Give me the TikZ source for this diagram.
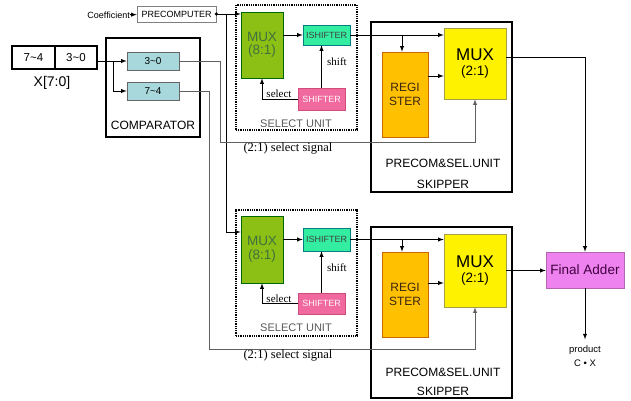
\documentclass[tikz,border=0pt]{standalone}
\usepackage{fontspec}
\setmainfont{Liberation Sans}
\newfontfamily\sigfont{Liberation Serif}
\newcommand\fsz[1]{\fontsize{#1}{#1}\selectfont}
\definecolor{cmpfill}{HTML}{A8D8DC}
\definecolor{muxgreen}{HTML}{8CC014}
\definecolor{mint}{HTML}{33EEA0}
\definecolor{shpink}{HTML}{F06AA0}
\definecolor{regorange}{HTML}{FFC000}
\definecolor{faviolet}{HTML}{EE82EE}
\begin{document}
\begin{tikzpicture}[>=latex,x=1pt,y=-1pt,
  outer/.style={draw,line width=1.7pt,inner sep=0pt},
  selbox/.style={draw,line width=2pt,dash pattern=on 1pt off 0.8pt,inner sep=0pt},
  blk/.style={draw,line width=0.6pt,inner sep=0pt,align=center},
  cmpbox/.style={blk,draw=gray!80!black,fill=cmpfill,minimum width=52pt,minimum height=18pt,font=\fsz{10}},
  mux8/.style={blk,draw=green!40!black,fill=muxgreen,text=green!25!black!75,minimum width=42pt,font=\fsz{13.5}},
  ishbox/.style={blk,draw=teal,fill=mint,text=black!75,minimum width=47pt,font=\fsz{9}},
  shbox/.style={blk,draw=purple!70,fill=shpink,text=white!85!pink,minimum width=47pt,font=\fsz{9}},
  regbox/.style={blk,draw=orange!80!black,fill=regorange,text=black!70!brown,minimum width=46pt,minimum height=85pt,font=\fsz{12}},
  mux2/.style={blk,draw=yellow!60!black,fill=yellow,minimum width=62pt},
  txt/.style={inner sep=0pt,align=center},
  wire/.style={line width=0.9pt},
  gwire/.style={line width=0.9pt,draw=gray!75!black}]
\useasboundingbox (0,0) rectangle (631,401);

% input word and comparator
\node[outer,minimum width=43pt,minimum height=23pt] (xhi) at (33.5,57.5) {\fsz{11.5}7\textasciitilde4};
\node[outer,minimum width=42pt,minimum height=23pt] (xlo) at (76,57.5) {\fsz{11.5}3\textasciitilde0};
\node[txt] (xlab) at (52,83) {\fsz{14}X[7:0]};
\node[outer,minimum width=94pt,minimum height=99pt] (comp) at (153,87.5) {};
\node[txt] (complab) at (153,125) {\fsz{12}COMPARATOR};
\node[cmpbox] (c30) at (153,61) {3\textasciitilde0};
\node[cmpbox] (c74) at (153,91) {7\textasciitilde4};
\coordinate (br) at (113,61);
\draw[wire,->] (xlo.east |- c30) -- (c30.west);
\draw[wire,->] (br) |- (c74.west);

% precomputer
\node[txt,anchor=east] (coef) at (130,15) {\fsz{9}Coefficient};
\node[blk,draw=gray,minimum width=79pt,minimum height=16pt] (pre) at (176.5,14) {\fsz{9}PRECOMPUTER};
\draw[wire,->] (coef) -- (pre);

% upper select unit
\node[selbox,minimum width=121pt,minimum height=125pt] (sua) at (296.5,67.5) {};
\node[txt,text=black!65] (sula) at (296,124) {\fsz{11}SELECT UNIT};
\node[mux8,minimum height=66pt] (mxa) at (262,45) {MUX\\(8:1)};
\node[ishbox,minimum height=20pt] (isha) at (326.5,35) {ISHIFTER};
\node[shbox,minimum height=22pt] (sha) at (321.5,99) {SHIFTER};
\draw[wire,->] (mxa.east |- isha) -- (isha.west);
\draw[wire,->] (sha.north) -- (sha.north |- isha.south);
\draw[wire,->] (sha.west) -| (mxa.south);
\node[txt,anchor=south] (sela) at (279,98) {\sigfont\fsz{11}select};
\node[txt,anchor=west] (shfa) at (327,62) {\sigfont\fsz{11}shift};

% lower select unit
\node[selbox,minimum width=121pt,minimum height=126pt] (sub) at (296.5,273) {};
\node[txt,text=black!65] (sulb) at (296,328) {\fsz{11}SELECT UNIT};
\node[mux8,minimum height=67pt] (mxb) at (262,249.5) {MUX\\(8:1)};
\node[ishbox,minimum height=23pt] (ishb) at (326.5,239.5) {ISHIFTER};
\node[shbox,minimum height=21pt] (shb) at (321.5,303.5) {SHIFTER};
\draw[wire,->] (mxb.east |- ishb) -- (ishb.west);
\draw[wire,->] (shb.north) -- (shb.north |- ishb.south);
\draw[wire,->] (shb.west) -| (mxb.south);
\node[txt,anchor=south] (selb) at (279,303) {\sigfont\fsz{11}select};
\node[txt,anchor=west] (shfb) at (327,268) {\sigfont\fsz{11}shift};

% precomputer to both select units
\coordinate (pb) at (226,14);
\coordinate (pc) at (226,232);
\draw[wire,->] (pre.east) -- (pre.east -| mxa.west);
\draw[wire,->] (pb) -- (pc) -- (pc -| mxb.west);
\fill (pre.east) circle (1.8pt);

% upper skipper
\node[outer,minimum width=141pt,minimum height=170pt] (ska) at (441.5,107) {};
\node[txt] (skla) at (443,163) {\fsz{12}PRECOM\&SEL.UNIT};
\node[txt] (sklb) at (443,184) {\fsz{12}SKIPPER};
\node[regbox] (rega) at (405,94.5) {REGI\\[2pt]STER};
\node[mux2,minimum height=71pt] (m2a) at (475,63.5) {\fsz{17}MUX\\[3pt]\fsz{13.5}(2:1)};
\coordinate (bra) at (402,35);
\coordinate (ra) at ([yshift=18.5pt]rega.east);
\draw[wire,->] (isha.east) -- (isha.east -| m2a.west);
\draw[wire,->] (bra) -- (bra |- rega.north);
\draw[wire,->] (ra) -- (ra -| m2a.west);

% lower skipper
\node[outer,minimum width=141pt,minimum height=171pt] (skb) at (441.5,312.5) {};
\node[txt] (skma) at (443,372) {\fsz{12}PRECOM\&SEL.UNIT};
\node[txt] (skmb) at (443,391) {\fsz{12}SKIPPER};
\node[regbox] (regb) at (405,294.5) {REGI\\[2pt]STER};
\node[mux2,minimum height=73pt] (m2b) at (475,270.5) {\fsz{17}MUX\\[3pt]\fsz{13.5}(2:1)};
\coordinate (brb) at (402,239.5);
\coordinate (rb) at ([yshift=11.5pt]regb.east);
\draw[wire,->] (ishb.east) -- (ishb.east -| m2b.west);
\draw[wire,->] (brb) -- (brb |- regb.north);
\draw[wire,->] (rb) -- (rb -| m2b.west);

% select signals from the comparator
\coordinate (s30) at (220,142);
\coordinate (s74) at (209,349);
\draw[gwire,->] (c30.east) -| (s30) -| (m2a.south);
\draw[gwire,->] (c74.east) -| (s74) -| (m2b.south);
\node[txt] (sga) at (288,149) {\sigfont\fsz{12.5}(2:1) select signal};
\node[txt] (sgb) at (288,356) {\sigfont\fsz{12.5}(2:1) select signal};

% final adder
\node[blk,draw=violet!60,fill=faviolet,text=violet!50!black,minimum width=78pt,minimum height=36pt] (fadd) at (585,270) {\fsz{13.5}Final Adder};
\coordinate (ma) at ([yshift=6.5pt]m2a.east);
\draw[wire,->] (ma) -| (fadd.north);
\draw[wire,->] (m2b.east) -- (m2b.east -| fadd.west);
\node[txt] (prod) at (585,350) {\fsz{9.5}product};
\node[txt] (cx) at (585,363) {\fsz{9.5}C • X};
\draw[wire,->,shorten >=6pt] (fadd.south) -- (prod.north);
\end{tikzpicture}
\end{document}
